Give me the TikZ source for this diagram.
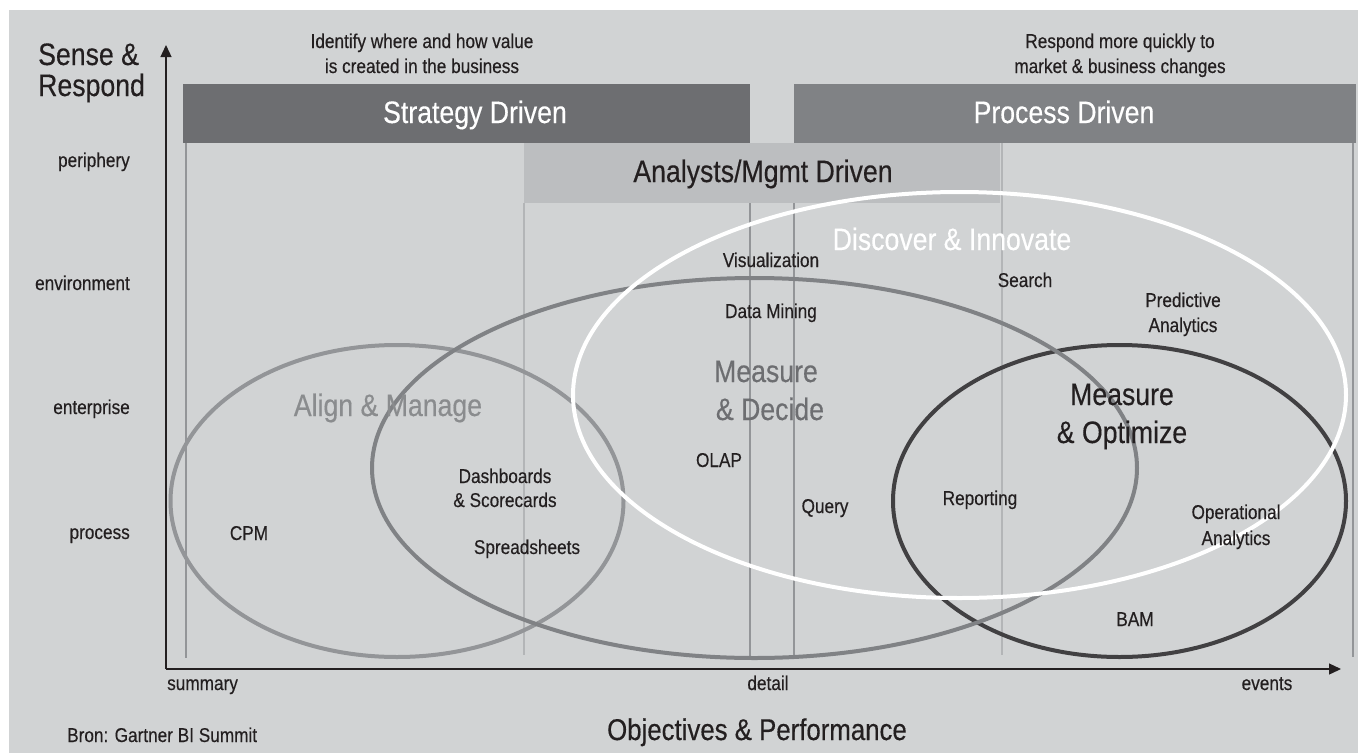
\documentclass[tikz,border=0pt]{standalone}
\usepackage{fontspec}
\setmainfont[FakeStretch=0.86,FakeBold=0.35]{Liberation Sans}
\usetikzlibrary{arrows.meta}
\definecolor{bg}{HTML}{D1D3D4}
\definecolor{txt}{HTML}{231F20}
\definecolor{stratc}{HTML}{6D6E71}
\definecolor{procc}{HTML}{808285}
\definecolor{analc}{HTML}{BCBEC0}
\definecolor{alignc}{HTML}{939598}
\definecolor{aligntxt}{HTML}{8A8C8E}
\definecolor{decidec}{HTML}{808285}
\definecolor{decidetxt}{HTML}{6D6E71}
\definecolor{optc}{HTML}{414042}
\definecolor{vlinec}{HTML}{939598}
\definecolor{vlinelt}{HTML}{B3B5B7}
\tikzset{
  small/.style={font=\fontsize{20}{24}\selectfont, text=txt, inner sep=0pt, anchor=base},
  big/.style={font=\fontsize{31}{36}\selectfont, text=txt, inner sep=0pt, anchor=base},
  vline/.style={draw=vlinec, line width=1.1pt},
  vlinelight/.style={draw=vlinelt, line width=1.1pt},
  axis/.style={draw=txt, line width=1.3pt, -{Triangle[length=12pt,width=11pt]}},
  ring/.style={line width=4pt},
}
\begin{document}
\begin{tikzpicture}[x=1pt,y=-1pt]
\useasboundingbox (0,0) rectangle (1358,753);
\fill[white] (0,0) rectangle (1358,753);
\fill[bg] (9,10) rectangle (1358,753);

% vertical guide lines
\draw[vline] (186,143) -- (186,658);
\draw[vline] (750,143) -- (750,656);
\draw[vline] (794,143) -- (794,658);
\draw[vline] (1353,143) -- (1353,657);
\draw[vlinelight] (524,203) -- (524,655);
\draw[vlinelight] (1002,143) -- (1002,655);

% bars
\fill[stratc] (183,84) rectangle (750,143);
\fill[procc] (794,84) rectangle (1356,143);
\fill[analc] (524,143) rectangle (1000,203);

% axes
\coordinate (O) at (166,669);
\coordinate (ytip) at (166,45);
\coordinate (xtip) at (1341,669);
\draw[axis] (O) -- (ytip);
\draw[axis] (O) -- (xtip);

% ellipses
\draw[ring, alignc] (397,501) ellipse [x radius=226.5, y radius=156];
\draw[ring, optc] (1119.5,501) ellipse [x radius=226.5, y radius=156];
\draw[ring, decidec] (754.5,468) ellipse [x radius=382.5, y radius=190];
\draw[ring, white] (959.5,395) ellipse [x radius=386.5, y radius=203];

% top texts
\node[small] (idA) at (422,48) {Identify where and how value};
\node[small] (idB) at (422,73) {is created in the business};
\node[small] (rsA) at (1120,48) {Respond more quickly to};
\node[small] (rsB) at (1120,73) {market \& business changes};

\node[big, text=white] (strat) at (475,123) {Strategy Driven};
\node[big, text=white] (proc) at (1064,123) {Process Driven};
\node[big] (anal) at (763,182) {Analysts/Mgmt Driven};

% y axis
\node[big, anchor=base west] (sr1) at (38,65) {Sense \&};
\node[big, anchor=base west] (sr2) at (38,96) {Respond};
\node[small, anchor=base east] (per) at (130,167) {periphery};
\node[small, anchor=base east] (env) at (130,290) {environment};
\node[small, anchor=base east] (ent) at (130,414) {enterprise};
\node[small, anchor=base east] (prc) at (130,539) {process};

% x axis
\node[small, anchor=base west] (summ) at (167,690) {summary};
\node[small] (det) at (768,690) {detail};
\node[small] (evt) at (1267,690) {events};
\node[big, font=\fontsize{30}{36}\selectfont] (obj) at (757,740) {Objectives \& Performance};
\node[small, anchor=base west] (bron) at (67,742) {Bron: Gartner BI Summit};

% region titles
\node[big, text=white] (disc) at (952,250) {Discover \& Innovate};
\node[big, text=decidetxt] (mdA) at (766,382) {Measure};
\node[big, text=decidetxt] (mdB) at (770,420) {\& Decide};
\node[big, text=aligntxt] (align) at (388,416) {Align \& Manage};
\node[big] (moA) at (1122,405) {Measure};
\node[big] (moB) at (1122,443) {\& Optimize};

% items
\node[small] (vis) at (771,267) {Visualization};
\node[small] (dm) at (771,318) {Data Mining};
\node[small] (search) at (1025,287) {Search};
\node[small] (paA) at (1183,307) {Predictive};
\node[small] (paB) at (1183,332) {Analytics};
\node[small] (olap) at (719,467) {OLAP};
\node[small] (dsA) at (505,483) {Dashboards};
\node[small] (dsB) at (505,507) {\& Scorecards};
\node[small] (query) at (825,513) {Query};
\node[small] (rep) at (980,505) {Reporting};
\node[small] (cpm) at (249,540) {CPM};
\node[small] (spread) at (527,554) {Spreadsheets};
\node[small] (oaA) at (1236,519) {Operational};
\node[small] (oaB) at (1236,545) {Analytics};
\node[small] (bam) at (1135,626) {BAM};
\end{tikzpicture}
\end{document}
